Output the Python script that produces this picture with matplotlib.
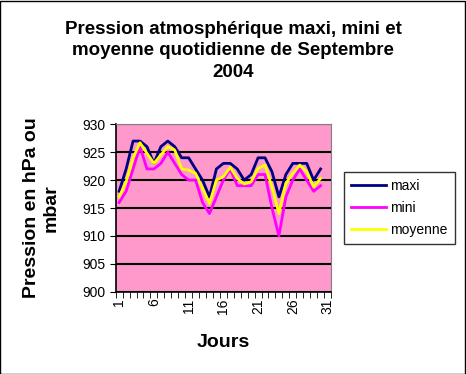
import matplotlib.pyplot as plt
from matplotlib.ticker import FixedLocator

plt.rcParams['font.family'] = ['Liberation Sans', 'DejaVu Sans']

# Données de septembre 2004 (jours 1 à 30, axe jusqu'à 31)
jours = list(range(1, 31))
categories = list(range(1, 32))
maxi = [918, 922, 927, 927, 926, 923, 926, 927, 926, 924,
        924, 922, 920, 917, 922, 923, 923, 922, 920, 921,
        924, 924, 921.5, 917, 921, 923, 923, 923, 920, 922]
mini = [916, 918, 922, 926, 922, 922, 923, 925, 923, 921,
        920, 920, 916, 914, 917, 920, 922, 919, 919, 919,
        921, 921, 915, 910, 917, 920, 922, 920, 918, 919]
moyenne = [917, 919.7, 924, 926.7, 924.8, 923, 924.5, 926, 925.4, 922,
           921.8, 921.2, 918.5, 915.8, 920, 920.6, 922.3, 920.3, 919.3, 919.7,
           922.1, 922.7, 918.8, 914, 919.4, 921.2, 922.7, 921.5, 918.8, 920.3]
yticks = [900, 905, 910, 915, 920, 925, 930]
xlabels = [1, 6, 11, 16, 21, 26, 31]

fig = plt.figure(figsize=(4.66, 3.74), dpi=100)
fig.patch.set_facecolor('white')
fig.patches.append(plt.Rectangle((0.001, 0.001), 0.997, 0.996, transform=fig.transFigure,
                                 fill=False, edgecolor='black', linewidth=1))

ax = fig.add_axes([0.2483, 0.220, 0.462, 0.4476])
ax.set_facecolor('#FF99CC')

ax.plot(jours, maxi, color='#000080', linewidth=2, label='maxi')
ax.plot(jours, mini, color='#FF00FF', linewidth=2, label='mini')
ax.plot(jours, moyenne, color='#FFFF00', linewidth=2, label='moyenne')

ax.set_ylim(900, 930)
ax.set_yticks(yticks)
ax.yaxis.grid(True, color='black', linewidth=1.5)
ax.set_axisbelow(True)
ax.tick_params(axis='y', labelsize=10, length=4, direction='out')

ax.set_xlim(0.5, len(categories) + 0.5)
ax.set_xticks(xlabels)
ax.set_xticklabels([str(v) for v in xlabels], rotation=90)
ax.tick_params(axis='x', which='major', length=0, labelsize=10, pad=5)
ax.xaxis.set_minor_locator(FixedLocator([c + 0.5 for c in range(len(categories) + 1)]))
ax.tick_params(axis='x', which='minor', length=4, direction='out')

for s in ['top', 'right']:
    ax.spines[s].set_color('#808080')
ax.spines['left'].set_linewidth(1.2)
ax.spines['bottom'].set_linewidth(1.2)

ax.set_xlabel('Jours', fontsize=14, fontweight='bold', labelpad=14)
ax.set_ylabel('Pression en hPa ou\nmbar', fontsize=14, fontweight='bold', labelpad=16)

fig.text(0.5, 0.864, 'Pression atmosphérique maxi, mini et\nmoyenne quotidienne de Septembre\n2004',
         ha='center', va='center', fontsize=13.5, fontweight='bold', linespacing=1.35)

leg = ax.legend(loc='center left', bbox_to_anchor=(1.03, 0.5), frameon=True, fancybox=False,
                edgecolor='black', fontsize=10, handlelength=2.5, handletextpad=0.3,
                borderpad=0.5, labelspacing=0.6)
leg.get_frame().set_linewidth(1)

plt.savefig('out.png', dpi=100)
